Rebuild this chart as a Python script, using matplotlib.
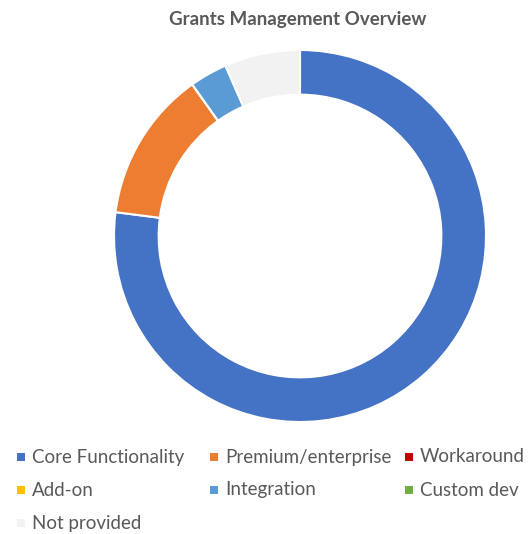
import matplotlib.pyplot as plt
from matplotlib.patches import Rectangle

# Feature coverage counts for grants management
categories = ['Core Functionality', 'Premium/enterprise', 'Workaround',
              'Add-on', 'Integration', 'Custom dev', 'Not provided']
counts = [47, 8, 0, 0, 2, 0, 4]
colors = ['#4472C4', '#ED7D31', '#C00000', '#FFC000', '#5B9BD5', '#70AD47', '#F2F2F2']

text_color = '#595959'
plt.rcParams['font.family'] = ['Lato', 'DejaVu Sans']

fig = plt.figure(figsize=(5.30, 5.34), dpi=100)

# donut, centre at about (300, 236) px, outer radius ~186 px
ax = fig.add_axes([(300 - 186) / 530, (534 - 422) / 534, 372 / 530, 372 / 534])
ax.pie(counts, colors=colors, startangle=90, counterclock=False, radius=1,
       wedgeprops=dict(width=0.24, edgecolor='white', linewidth=1.5))
ax.set_xlim(-1, 1)
ax.set_ylim(-1, 1)
ax.set_aspect('equal')
ax.axis('off')

fig.text(298 / 530, 1 - 20 / 534, 'Grants Management Overview', ha='center', va='center',
         fontsize=13.5, fontweight='bold', color=text_color)

# legend in three columns below the donut
col_x = [21, 214, 409]
row_y = [457, 490, 523]
for i, (label, c) in enumerate(zip(categories, colors)):
    x = col_x[i % 3]
    y = row_y[i // 3]
    fig.patches.append(Rectangle(((x - 4) / 530, 1 - (y + 4) / 534), 8 / 530, 8 / 534,
                                 transform=fig.transFigure, facecolor=c, edgecolor='none'))
    fig.text((x + 11) / 530, 1 - y / 534, label, ha='left', va='center',
             fontsize=13.5, color=text_color)

fig.savefig('out.png', dpi=100)
